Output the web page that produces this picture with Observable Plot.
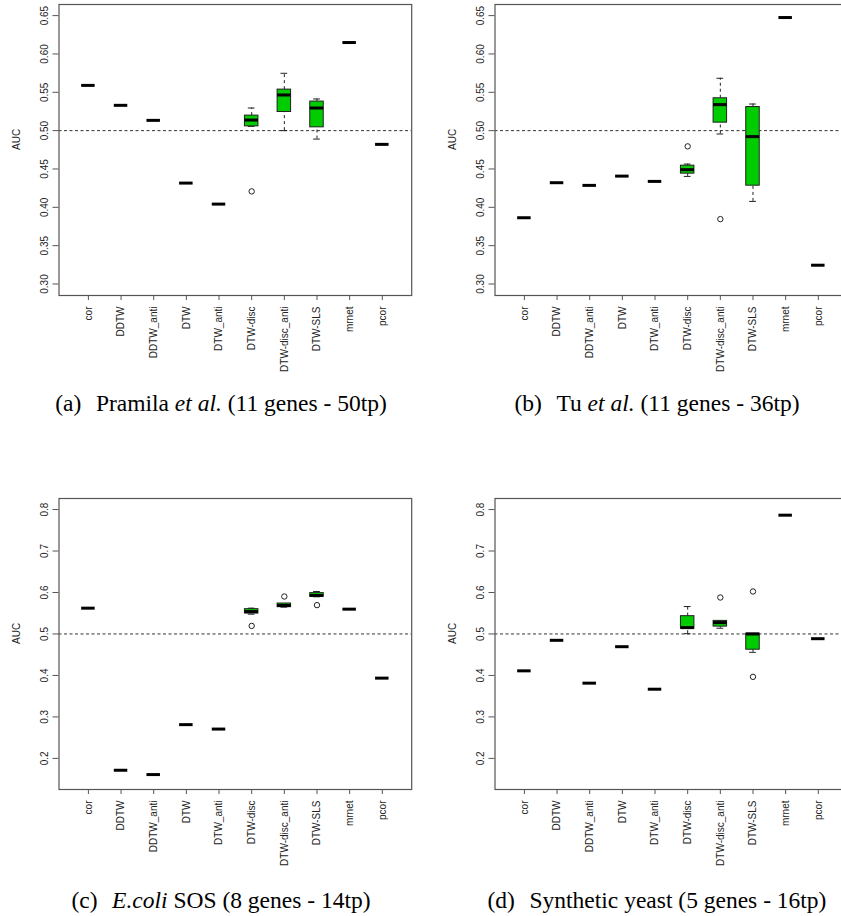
<!DOCTYPE html>
<html>
<head>
<meta charset="utf-8">
<script src="https://cdn.jsdelivr.net/npm/d3@7"></script>
<script src="https://cdn.jsdelivr.net/npm/@observablehq/plot@0.6"></script>
<style>
  html, body { margin: 0; padding: 0; background: #fff; width: 841px; height: 916px; overflow: hidden; position: relative; }
  .panel { position: absolute; width: 420px; height: 385px; }
  .panel svg { max-width: none !important; }
  .cap { position: absolute; font-family: "Liberation Serif", "Times New Roman", serif; font-size: 23.5px; line-height: 23px; white-space: nowrap; transform: translateX(-50%); color: #000; }
  .gap { display: inline-block; width: 0.62em; }
</style>
</head>
<body>
<div id="pa" class="panel" style="left:0px;top:0px"></div>
<div id="pb" class="panel" style="left:436px;top:0px"></div>
<div id="pc" class="panel" style="left:0px;top:494px"></div>
<div id="pd" class="panel" style="left:436px;top:494px"></div>
<div class="cap" style="left:221px;top:392px">(a)<span class="gap"></span>Pramila <i>et al.</i> (11 genes - 50tp)</div>
<div class="cap" style="left:657px;top:392px">(b)<span class="gap"></span>Tu <i>et al.</i> (11 genes - 36tp)</div>
<div class="cap" style="left:221px;top:889px">(c)<span class="gap"></span><i>E.coli</i> SOS (8 genes - 14tp)</div>
<div class="cap" style="left:657px;top:889px">(d)<span class="gap"></span>Synthetic yeast (5 genes - 16tp)</div>
<script>
// Methods (x categories)
const methods = ["cor", "DDTW", "DDTW_anti", "DTW", "DTW_anti", "DTW-disc", "DTW-disc_anti", "DTW-SLS", "mrnet", "pcor"];
// Methods with a spread of values (drawn as boxes)
const boxMethods = ["DTW-disc", "DTW-disc_anti", "DTW-SLS"];

// (a) Pramila et al.
const pramilaMedian = [0.559, 0.533, 0.5134, 0.4316, 0.4042, 0.5138, 0.5465, 0.5295, 0.6149, 0.4821];
const pramilaQ1 = [0.5056, 0.5243, 0.5043];
const pramilaQ3 = [0.5196, 0.5535, 0.5379];
const pramilaLow = [0.5056, 0.500, 0.489];
const pramilaHigh = [0.5295, 0.5748, 0.5413];
const pramilaOutlierMethods = ["DTW-disc"];
const pramilaOutliers = [0.4208];

// (b) Tu et al.
const tuMedian = [0.3864, 0.4321, 0.4286, 0.4407, 0.4338, 0.4491, 0.5339, 0.4922, 0.6475, 0.3245];
const tuQ1 = [0.4439, 0.5104, 0.4282];
const tuQ3 = [0.4543, 0.5422, 0.5308];
const tuLow = [0.4403, 0.4956, 0.4077];
const tuHigh = [0.4564, 0.5683, 0.5347];
const tuOutlierMethods = ["DTW-disc", "DTW-disc_anti"];
const tuOutliers = [0.4795, 0.3846];

// (c) E.coli SOS
const ecoliMedian = [0.5622, 0.1714, 0.161, 0.2814, 0.2707, 0.554, 0.5686, 0.5927, 0.5598, 0.3935];
const ecoliQ1 = [0.5492, 0.5646, 0.5896];
const ecoliQ3 = [0.5598, 0.5734, 0.5985];
const ecoliLow = [0.5477, 0.5646, 0.5896];
const ecoliHigh = [0.5622, 0.5734, 0.6024];
const ecoliOutlierMethods = ["DTW-disc", "DTW-disc_anti", "DTW-SLS"];
const ecoliOutliers = [0.5194, 0.5903, 0.5695];

// (d) Synthetic yeast
const yeastMedian = [0.4111, 0.4847, 0.3814, 0.4693, 0.3668, 0.5153, 0.5274, 0.5, 0.7864, 0.4886];
const yeastQ1 = [0.5128, 0.5177, 0.462];
const yeastQ3 = [0.5429, 0.5315, 0.5008];
const yeastLow = [0.5007, 0.5138, 0.4557];
const yeastHigh = [0.5661, 0.5315, 0.5008];
const yeastOutlierMethods = ["DTW-disc_anti", "DTW-SLS", "DTW-SLS"];
const yeastOutliers = [0.5879, 0.6024, 0.3966];

// Y tick values
const ticksAB = [0.30, 0.35, 0.40, 0.45, 0.50, 0.55, 0.60, 0.65];
const ticksCD = [0.2, 0.3, 0.4, 0.5, 0.6, 0.7, 0.8];

const W = 420, H = 385, ML = 58.5, MR = 8.8, MT = 4, MB = 90;
const step = (W - ML - MR) / 10.8;
const bw = step * 0.413;

function panel(median, q1, q3, lo, hi, outM, outV, domain, ticks, fmt) {
  const medRows = methods.map((m, i) => ({method: m, med: median[i]}));
  const boxRows = boxMethods.map((m, i) => ({method: m, q1: q1[i], q3: q3[i], lo: lo[i], hi: hi[i]}));
  const outRows = outM.map((m, i) => ({method: m, value: outV[i]}));
  return Plot.plot({
    width: W, height: H,
    marginLeft: ML, marginRight: MR, marginTop: MT, marginBottom: MB,
    style: {fontFamily: "'Liberation Sans', Arial, sans-serif", fontSize: "10px", background: "transparent", overflow: "visible", maxWidth: "none"},
    x: {type: "band", domain: methods, paddingInner: 0.587, paddingOuter: 0.6935, round: false, label: null},
    y: {domain, label: null},
    marks: [
      Plot.ruleY([0.5], {stroke: "#333", strokeWidth: 1, strokeDasharray: "3,2.5"}),
      Plot.ruleX(boxRows, {x: "method", y1: "q3", y2: "hi", stroke: "#222", strokeDasharray: "3,3"}),
      Plot.ruleX(boxRows, {x: "method", y1: "lo", y2: "q1", stroke: "#222", strokeDasharray: "3,3"}),
      Plot.tickY(boxRows, {x: "method", y: "hi", stroke: "#222", inset: bw / 4}),
      Plot.tickY(boxRows, {x: "method", y: "lo", stroke: "#222", inset: bw / 4}),
      Plot.barY(boxRows, {x: "method", y1: "q1", y2: "q3", fill: "#00cc00", stroke: "#222", strokeWidth: 1}),
      Plot.tickY(medRows, {x: "method", y: "med", stroke: "#000", strokeWidth: 3}),
      Plot.dot(outRows, {x: "method", y: "value", r: 2.7, stroke: "#222", strokeWidth: 1, fill: "none"}),
      Plot.frame({stroke: "#555", strokeWidth: 1.2}),
      Plot.axisY({ticks, tickFormat: fmt, tickRotate: -90, tickSize: 6, tickPadding: 5, stroke: "#555", fill: "#222", label: null}),
      Plot.axisX({tickRotate: -90, tickSize: 5, tickPadding: 6, stroke: "#555", fill: "#222", label: null}),
      Plot.text(["AUC"], {text: d => d, frameAnchor: "left", rotate: -90, dx: -42, fill: "#222"})
    ]
  });
}

const f2 = d3.format(".2f"), f1 = d3.format(".1f");
document.getElementById("pa").append(panel(pramilaMedian, pramilaQ1, pramilaQ3, pramilaLow, pramilaHigh, pramilaOutlierMethods, pramilaOutliers, [0.285, 0.6645], ticksAB, f2));
document.getElementById("pb").append(panel(tuMedian, tuQ1, tuQ3, tuLow, tuHigh, tuOutlierMethods, tuOutliers, [0.285, 0.6645], ticksAB, f2));
document.getElementById("pc").append(panel(ecoliMedian, ecoliQ1, ecoliQ3, ecoliLow, ecoliHigh, ecoliOutlierMethods, ecoliOutliers, [0.125, 0.8266], ticksCD, f1));
document.getElementById("pd").append(panel(yeastMedian, yeastQ1, yeastQ3, yeastLow, yeastHigh, yeastOutlierMethods, yeastOutliers, [0.125, 0.8266], ticksCD, f1));
</script>
</body>
</html>
